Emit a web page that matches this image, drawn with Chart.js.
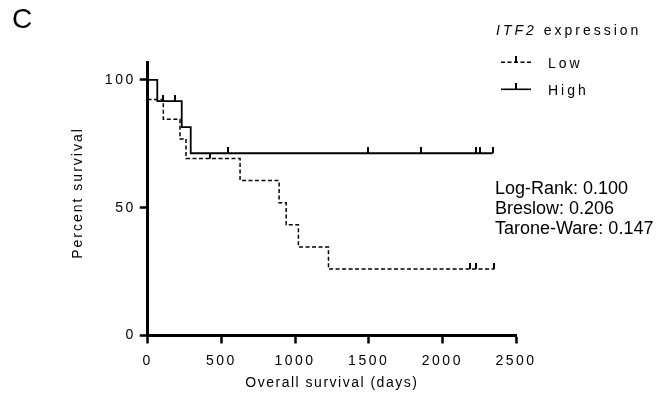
<!DOCTYPE html>
<html lang="en">
<head>
<meta charset="UTF-8">
<title>ITF2 expression - overall survival</title>
<script src="https://cdn.jsdelivr.net/npm/chart.js"></script>
<style>
  html, body { margin: 0; padding: 0; background: #fff; }
</style>
</head>
<body>
<canvas id="kmChart" width="670" height="399"></canvas>
<script>
// Kaplan-Meier steps: day of each change and survival (%) from that day on
const lowDays = [0, 4, 106, 219, 260, 627, 892, 940, 1023, 1227, 2353];
const lowSurvival = [100, 92.3, 84.6, 76.9, 69.2, 60.6, 51.9, 43.3, 34.6, 26.0, 26.0];
const lowCensorDays = [423, 2190, 2228, 2353];
const lowCensorSurvival = [69.2, 26.0, 26.0, 26.0];

const highDays = [0, 65, 231, 292, 2341];
const highSurvival = [100, 91.7, 81.5, 71.3, 71.3];
const highCensorDays = [106, 185, 543, 1492, 1857, 2228, 2257, 2341];
const highCensorSurvival = [91.7, 91.7, 71.3, 71.3, 71.3, 71.3, 71.3, 71.3];

const xTicks = [0, 500, 1000, 1500, 2000, 2500];
const yTicks = [0, 50, 100];
const groupLabels = ['Low', 'High'];
const statLines = ['Log-Rank: 0.100', 'Breslow: 0.206', 'Tarone-Ware: 0.147'];
const xTitle = 'Overall survival (days)';
const yTitle = 'Percent survival';

const FONT = '"Liberation Sans", Arial, Helvetica, sans-serif';

function toPoints(xs, ys) {
    return xs.map((x, i) => ({ x: x, y: ys[i] }));
}

// censor mark: short vertical stroke sitting on top of the curve
const censorMark = document.createElement('canvas');
censorMark.width = 2;
censorMark.height = 12;
(function () {
    const c = censorMark.getContext('2d');
    c.fillStyle = '#000';
    c.fillRect(0, 0, 2, 6);
})();

const lowDash = [4, 2.5];

// tick labels are drawn after the datasets (z: 1) with wider spacing
const spacing = {
    id: 'spacing',
    beforeDraw(chart) { chart.ctx.letterSpacing = '0px'; },
    afterDatasetsDraw(chart) { chart.ctx.letterSpacing = '2.5px'; }
};

// axis titles, panel letter, group legend and test statistics
const annotations = {
    id: 'annotations',
    afterDraw(chart) {
        const ctx = chart.ctx;
        const area = chart.chartArea;
        ctx.save();
        ctx.fillStyle = '#000';
        ctx.strokeStyle = '#000';

        ctx.letterSpacing = '1.5px';
        ctx.textAlign = 'center';
        ctx.textBaseline = 'middle';
        ctx.font = '14px ' + FONT;
        ctx.fillText(xTitle, (area.left + area.right) / 2, 383);
        ctx.save();
        ctx.translate(78.5, 193);
        ctx.rotate(-Math.PI / 2);
        ctx.letterSpacing = '2px';
        ctx.fillText(yTitle, 0, 0);
        ctx.restore();

        ctx.textAlign = 'left';
        ctx.letterSpacing = '0px';
        ctx.textBaseline = 'alphabetic';
        ctx.font = '28px ' + FONT;
        ctx.fillText('C', 12, 28);

        // legend title, gene name in italics
        ctx.letterSpacing = '3px';
        ctx.textBaseline = 'middle';
        ctx.font = 'italic 14px ' + FONT;
        ctx.fillText('ITF2', 496, 31);
        const w = ctx.measureText('ITF2').width;
        ctx.font = '14px ' + FONT;
        ctx.fillText(' expression', 496 + w, 31);

        const rows = [62.3, 89.3];
        groupLabels.forEach((label, i) => {
            const y = rows[i];
            ctx.lineWidth = 1.6;
            ctx.setLineDash(i === 0 ? lowDash : []);
            ctx.beginPath();
            ctx.moveTo(501, y);
            ctx.lineTo(531, y);
            ctx.stroke();
            ctx.setLineDash([]);
            ctx.drawImage(censorMark, 515, y - 6);
            ctx.fillText(label, 548, y + 2);
        });

        ctx.letterSpacing = '0px';
        ctx.textBaseline = 'alphabetic';
        ctx.font = '18px ' + FONT;
        statLines.forEach((line, i) => {
            ctx.fillText(line, 495, 193.5 + i * 20);
        });
        ctx.restore();
    }
};

const tickFont = { family: FONT, size: 14 };
const plainNumber = v => String(v);

new Chart(document.getElementById('kmChart'), {
    type: 'scatter',
    data: {
        datasets: [
            {
                label: groupLabels[0],
                data: toPoints(lowDays, lowSurvival),
                showLine: true,
                stepped: true,
                borderColor: '#000',
                borderWidth: 1.5,
                borderDash: lowDash,
                pointRadius: 0
            },
            {
                label: groupLabels[1],
                data: toPoints(highDays, highSurvival),
                showLine: true,
                stepped: true,
                borderColor: '#000',
                borderWidth: 1.8,
                pointRadius: 0
            },
            {
                label: groupLabels[0] + ' censored',
                data: toPoints(lowCensorDays, lowCensorSurvival),
                pointStyle: censorMark,
                pointRadius: 6
            },
            {
                label: groupLabels[1] + ' censored',
                data: toPoints(highCensorDays, highCensorSurvival),
                pointStyle: censorMark,
                pointRadius: 6
            }
        ]
    },
    options: {
        responsive: false,
        animation: false,
        events: [],
        layout: { padding: { top: 62, right: 154, left: 0, bottom: 0 } },
        plugins: {
            legend: { display: false },
            tooltip: { enabled: false }
        },
        scales: {
            x: {
                type: 'linear',
                min: 0,
                max: 2500,
                afterBuildTicks: axis => { axis.ticks = xTicks.map(v => ({ value: v })); },
                afterFit: axis => { axis.height = 63.5; },
                border: { color: '#000', width: 3 },
                grid: { drawOnChartArea: false, tickLength: 8, tickWidth: 2.5, tickColor: '#000' },
                ticks: { color: '#000', font: tickFont, padding: 9, maxRotation: 0, z: 1, callback: plainNumber }
            },
            y: {
                min: 0,
                max: 107,
                afterBuildTicks: axis => { axis.ticks = yTicks.map(v => ({ value: v })); },
                afterFit: axis => { axis.width = 147.7; },
                border: { color: '#000', width: 3 },
                grid: { drawOnChartArea: false, tickLength: 8, tickWidth: 2.5, tickColor: '#000' },
                ticks: { color: '#000', font: tickFont, padding: 4, z: 1, callback: plainNumber }
            }
        }
    },
    plugins: [spacing, annotations]
});
</script>
</body>
</html>
